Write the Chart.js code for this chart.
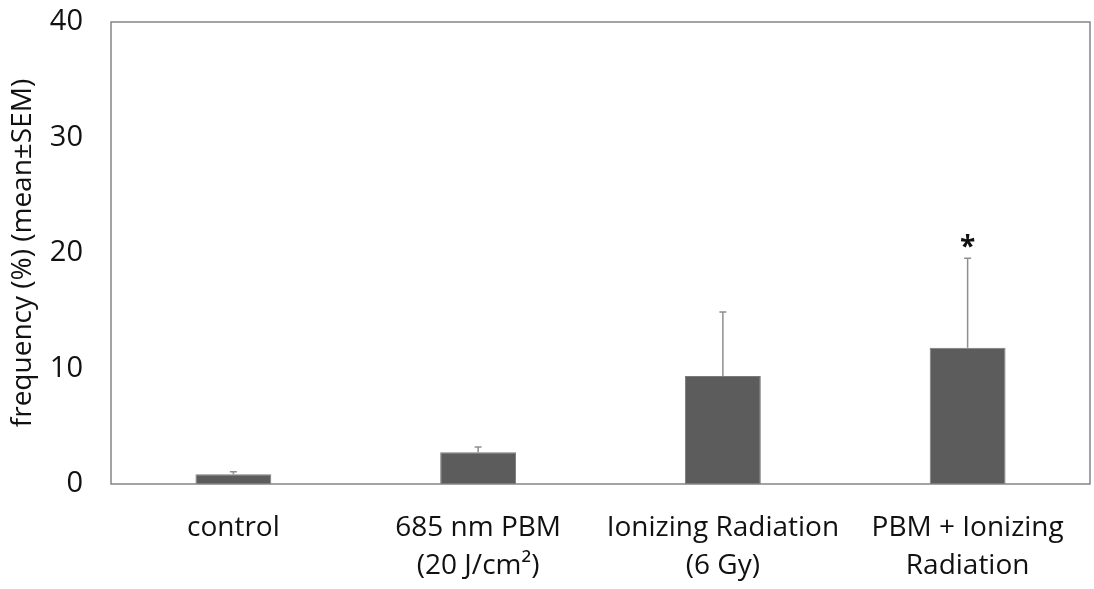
<!DOCTYPE html>
<html>
<head>
<meta charset="utf-8">
<script src="https://cdn.jsdelivr.net/npm/chart.js@4/dist/chart.umd.min.js"></script>
<style>
html,body{margin:0;padding:0;background:#fff;}
#wrap{width:1094px;height:589px;}
</style>
</head>
<body>
<div id="wrap"><canvas id="c" width="1094" height="589"></canvas></div>
<script>
const categories = [["control"], ["685 nm PBM", "(20 J/cm²)"], ["Ionizing Radiation", "(6 Gy)"], ["PBM + Ionizing", "Radiation"]];
const means = [0.85, 2.75, 9.35, 11.8];
const sem = [0.2, 0.45, 5.55, 7.75];
const significance = ["", "", "", "*"];
const yTicks = [0, 10, 20, 30, 40];

const FONT = "'Open Sans', 'Noto Sans', sans-serif";

const errorBarPlugin = {
  id: 'errorBars',
  afterDatasetsDraw(chart) {
    const ctx = chart.ctx;
    const meta = chart.getDatasetMeta(0);
    const y = chart.scales.y;
    ctx.save();
    meta.data.forEach((bar, i) => {
      const x = bar.x;
      const yTop = y.getPixelForValue(means[i] + sem[i]);
      const yBase = y.getPixelForValue(means[i]);
      ctx.strokeStyle = '#8f8f8f';
      ctx.lineWidth = 1.5;
      ctx.beginPath();
      ctx.moveTo(x, yBase);
      ctx.lineTo(x, yTop);
      ctx.moveTo(x - 3.5, yTop);
      ctx.lineTo(x + 3.5, yTop);
      ctx.stroke();
      if (significance[i]) {
        ctx.fillStyle = '#111';
        ctx.font = "bold 28px " + FONT;
        ctx.textAlign = 'center';
        ctx.textBaseline = 'alphabetic';
        ctx.fillText(significance[i], x, yTop - 2);
      }
    });
    ctx.restore();
  }
};

const boxPlugin = {
  id: 'box',
  afterDraw(chart) {
    const a = chart.chartArea;
    const ctx = chart.ctx;
    ctx.save();
    ctx.strokeStyle = '#858585';
    ctx.lineWidth = 1.5;
    ctx.strokeRect(a.left, a.top, a.right - a.left, a.bottom - a.top);
    ctx.restore();
  }
};

new Chart(document.getElementById('c'), {
  type: 'bar',
  data: {
    labels: categories,
    datasets: [{
      data: means,
      backgroundColor: '#5c5c5c',
      borderColor: '#7a7a7a',
      borderWidth: 1,
      barPercentage: 0.31,
      categoryPercentage: 1.0
    }]
  },
  options: {
    responsive: false,
    animation: false,
    devicePixelRatio: 1,
    layout: { padding: { top: 22, right: 4, left: 0, bottom: 0 } },
    plugins: { legend: { display: false }, tooltip: { enabled: false } },
    scales: {
      x: {
        grid: { display: false, drawTicks: false },
        border: { display: false },
        ticks: {
          color: '#111',
          font: { family: FONT, size: 28, lineHeight: 1.36 },
          padding: 25,
          maxRotation: 0,
          autoSkip: false
        },
        afterFit(s) { s.height = 105; s.paddingLeft = 0; s.paddingRight = 0; }
      },
      y: {
        min: 0, max: 40,
        afterBuildTicks(s) { s.ticks = yTicks.map(v => ({ value: v })); },
        grid: { display: false, drawTicks: false },
        border: { display: false },
        ticks: {
          color: '#111',
          font: { family: FONT, size: 29 },
          padding: 28
        },
        title: {
          display: true,
          text: 'frequency (%) (mean±SEM)',
          color: '#111',
          font: { family: FONT, size: 28 },
          padding: { top: 6, bottom: 0 }
        },
        afterFit(s) { s.width = 111; s.paddingTop = 0; s.paddingBottom = 0; }
      }
    }
  },
  plugins: [errorBarPlugin, boxPlugin]
});
</script>
</body>
</html>
